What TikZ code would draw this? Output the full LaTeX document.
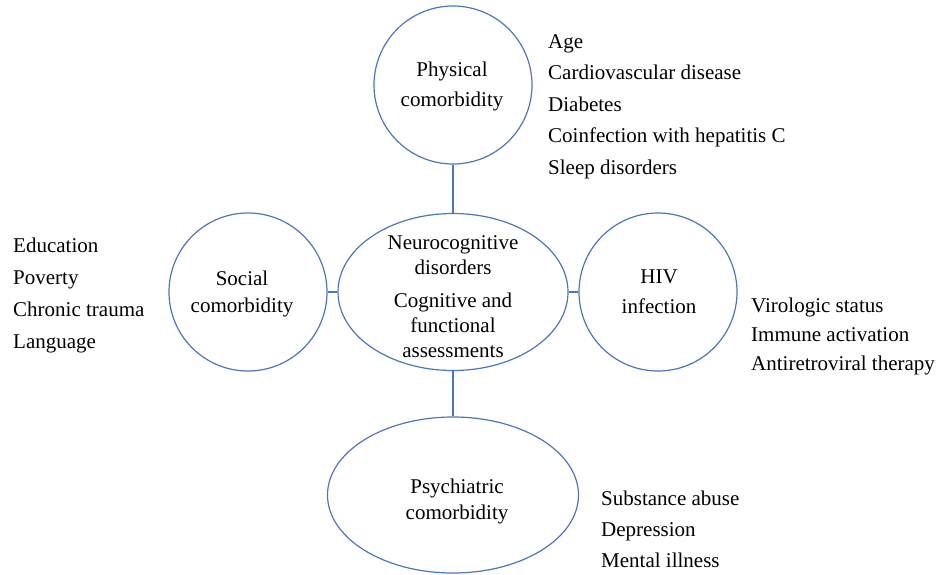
\documentclass[tikz,border=0pt]{standalone}
\usepackage{fontspec}
\setmainfont{Liberation Serif}
\usetikzlibrary{shapes.geometric}
\definecolor{shapeblue}{HTML}{4A76BA}
\begin{document}
\begin{tikzpicture}[x=1pt,y=-1pt,
  bubble/.style={circle,draw=shapeblue,line width=1.2pt,inner sep=0pt,minimum size=158pt},
  oval/.style={ellipse,draw=shapeblue,line width=1.2pt,inner sep=0pt},
  link/.style={draw=shapeblue,line width=1.2pt},
  lbl/.style={inner sep=0pt,align=center,anchor=base,font=\fontsize{21}{27}\selectfont},
  lst/.style={inner sep=0pt,align=left,anchor=base west,font=\fontsize{21}{31.5}\selectfont}]
\useasboundingbox (0,0) rectangle (939,574);
% shapes
\node[bubble] (phys) at (453,85) {};
\node[bubble] (soc) at (248,292) {};
\node[bubble] (hiv) at (658,292) {};
\node[oval,minimum width=230pt,minimum height=157pt] (neuro) at (453,292) {};
\node[oval,minimum width=251pt,minimum height=156pt] (psy) at (453,495) {};
% connectors
\draw[link] (phys.south) -- (neuro.north);
\draw[link] (soc.east) -- (neuro.west);
\draw[link] (neuro.east) -- (hiv.west);
\draw[link] (neuro.south) -- (psy.north);
% labels (anchored at the baseline of the last line)
\node[lbl,font=\fontsize{21}{30}\selectfont] (physt) at (452,106) {Physical\\comorbidity};
\node[lbl] (soct) at (242,312) {Social\\comorbidity};
\node[lbl,font=\fontsize{21}{30}\selectfont] (hivt) at (659,313) {HIV\\infection};
\node[lbl,font=\fontsize{21}{25}\selectfont] (neurot1) at (453,274) {Neurocognitive\\disorders};
\node[lbl,font=\fontsize{21}{25}\selectfont] (neurot2) at (453,357) {Cognitive and\\functional\\assessments};
\node[lbl,font=\fontsize{21}{26}\selectfont] (psyt) at (457,519) {Psychiatric\\comorbidity};
% lists
\node[lst] (physl) at (548,174) {Age\\Cardiovascular disease\\Diabetes\\Coinfection with hepatitis C\\Sleep disorders};
\node[lst,font=\fontsize{21}{32}\selectfont] (socl) at (13,348) {Education\\Poverty\\Chronic trauma\\Language};
\node[lst,font=\fontsize{21}{29}\selectfont] (hivl) at (751,370) {Virologic status\\Immune activation\\Antiretroviral therapy};
\node[lst,font=\fontsize{21}{31}\selectfont] (psyl) at (601,567) {Substance abuse\\Depression\\Mental illness};
\end{tikzpicture}
\end{document}
